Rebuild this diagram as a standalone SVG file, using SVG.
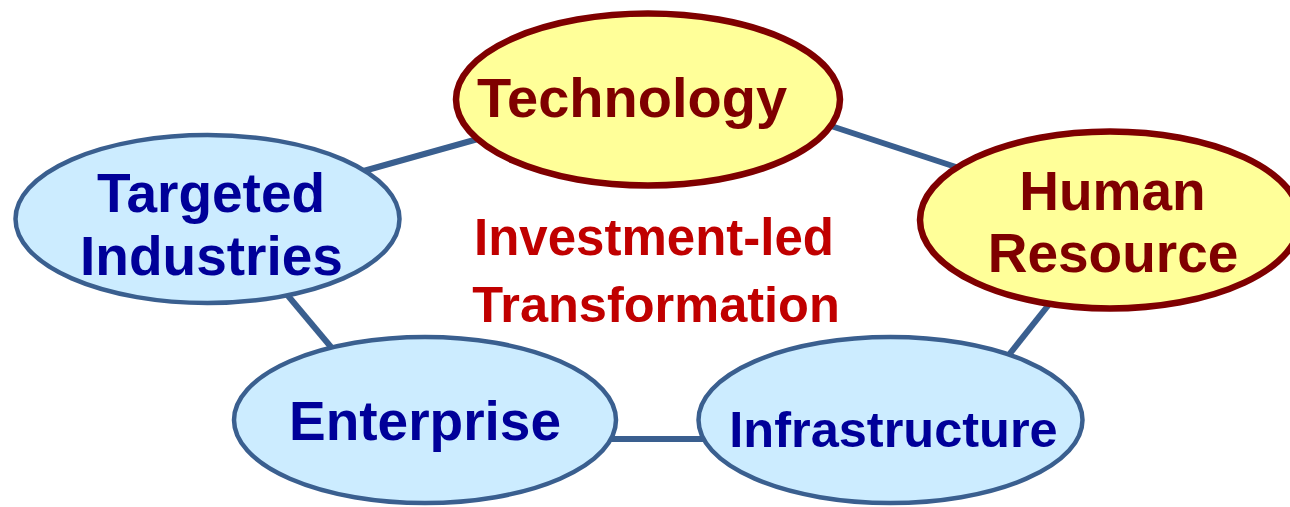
<svg xmlns="http://www.w3.org/2000/svg" width="1290" height="507" viewBox="0 0 1290 507">
<style>
.conn{stroke:#3A5F8F;stroke-width:6;fill:none}
.blue{fill:#CCECFF;stroke:#3A5F8F;stroke-width:4.5}
.yel{fill:#FFFF99;stroke:#7F0000;stroke-width:6.5}
text{font-family:"Liberation Sans",Arial,sans-serif;font-weight:bold;text-anchor:middle}
.tb{fill:#000099}
.tr{fill:#7F0000}
.tc{fill:#C00000}
</style>
<rect width="1290" height="507" fill="#FFFFFF"/>
<g id="connectors">
<line class="conn" x1="360" y1="172" x2="485" y2="137"/>
<line class="conn" x1="825" y1="124" x2="965" y2="170"/>
<line class="conn" x1="284" y1="291" x2="336" y2="353"/>
<line class="conn" x1="605" y1="439" x2="708" y2="439"/>
<line class="conn" x1="1004" y1="361" x2="1058" y2="293"/>
</g>
<g id="technology">
<ellipse class="yel" cx="648" cy="99.5" rx="192" ry="86"/>
<text class="tr" x="632" y="117" font-size="56">Technology</text>
</g>
<g id="human-resource">
<ellipse class="yel" cx="1110" cy="220" rx="190" ry="88.5"/>
<text class="tr" x="1112.5" y="210" font-size="55">Human</text>
<text class="tr" x="1113" y="272" font-size="55">Resource</text>
</g>
<g id="targeted-industries">
<ellipse class="blue" cx="207.5" cy="219" rx="192" ry="84"/>
<text class="tb" x="211" y="212" font-size="55">Targeted</text>
<text class="tb" x="211.5" y="275" font-size="55">Industries</text>
</g>
<g id="enterprise">
<ellipse class="blue" cx="425" cy="420" rx="191" ry="83"/>
<text class="tb" x="425" y="440" font-size="55">Enterprise</text>
</g>
<g id="infrastructure">
<ellipse class="blue" cx="890.5" cy="420" rx="192" ry="83"/>
<text class="tb" x="893.5" y="447" font-size="50.5">Infrastructure</text>
</g>
<g id="center-label">
<text class="tc" x="654" y="255" font-size="51">Investment-led</text>
<text class="tc" x="656" y="322" font-size="50.5">Transformation</text>
</g>
</svg>
